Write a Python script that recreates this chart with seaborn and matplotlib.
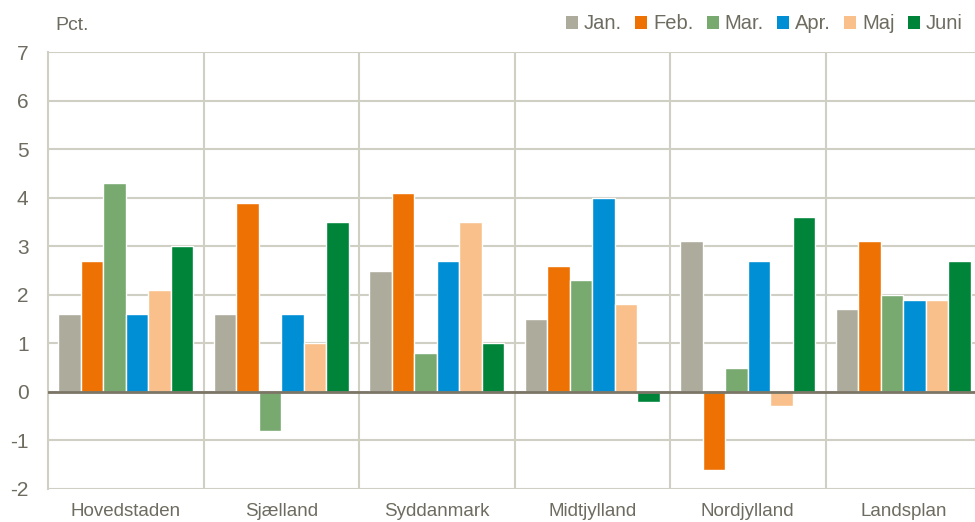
import matplotlib
matplotlib.use("Agg")
import matplotlib.pyplot as plt
import seaborn as sns
import pandas as pd
from matplotlib.patches import Patch

regions = ["Hovedstaden", "Sjælland", "Syddanmark", "Midtjylland", "Nordjylland", "Landsplan"]
months = ["Jan.", "Feb.", "Mar.", "Apr.", "Maj", "Juni"]
jan = [1.6, 1.6, 2.5, 1.5, 3.1, 1.7]
feb = [2.7, 3.9, 4.1, 2.6, -1.6, 3.1]
mar = [4.3, -0.8, 0.8, 2.3, 0.5, 2.0]
apr = [1.6, 1.6, 2.7, 4.0, 2.7, 1.9]
maj = [2.1, 1.0, 3.5, 1.8, -0.3, 1.9]
juni = [3.0, 3.5, 1.0, -0.2, 3.6, 2.7]
yticks = [-2, -1, 0, 1, 2, 3, 4, 5, 6, 7]

colors = ["#adab9c", "#ee7203", "#78a96f", "#008fd5", "#f9c08b", "#00843a"]

series = [jan, feb, mar, apr, maj, juni]
rows = []
for m, vals in zip(months, series):
    for r, v in zip(regions, vals):
        rows.append({"region": r, "month": m, "value": v})
df = pd.DataFrame(rows)

sns.set_theme(style="white")
plt.rcParams["font.family"] = ["Liberation Sans", "DejaVu Sans"]
text_color = "#6e6c60"
grid_color = "#cfcfc4"

fig = plt.figure(figsize=(9.75, 5.22), dpi=100)
ax = fig.add_axes([48 / 975, 33 / 522, 933 / 975, 437 / 522])

sns.barplot(data=df, x="region", y="value", hue="month", order=regions,
            hue_order=months, palette=colors, saturation=1, width=0.87, dodge=True,
            edgecolor="white", linewidth=1.0, legend=False, ax=ax, zorder=3)

ax.set_ylim(-2, 7)
ax.set_xlim(-0.5, len(regions) - 0.5)
ax.set_yticks(yticks)
ax.set_yticklabels([str(t) for t in yticks], fontsize=15, color=text_color)
ax.set_xticks(range(len(regions)))
ax.set_xticklabels(regions, fontsize=13.5, color=text_color)
ax.set_xticks([i + 0.5 for i in range(len(regions) - 1)], minor=True)
ax.tick_params(axis="both", which="both", length=0)
ax.tick_params(axis="y", pad=14)
ax.tick_params(axis="x", pad=10)
ax.set_xlabel("")
ax.set_ylabel("")

ax.grid(axis="y", which="major", color=grid_color, linewidth=1.5, zorder=0)
ax.grid(axis="x", which="minor", color=grid_color, linewidth=1.5, zorder=0)
ax.grid(axis="x", which="major", visible=False)
ax.set_axisbelow(True)
ax.axhline(0, color="#7a7565", linewidth=2, zorder=4)

for s in ["top", "right", "bottom"]:
    ax.spines[s].set_visible(False)
ax.spines["left"].set_color(grid_color)
ax.spines["left"].set_linewidth(1.5)

fig.text(55 / 975, 1 - 25 / 522, "Pct.", fontsize=14, color=text_color,
         ha="left", va="center")

handles = [Patch(facecolor=c, edgecolor="none") for c in colors]
fig.legend(handles, months, loc="center right", bbox_to_anchor=(1.0, 1 - 24 / 522),
           ncol=6, frameon=False, fontsize=14.5, labelcolor=text_color,
           handlelength=0.6, handleheight=0.6, handletextpad=0.3,
           columnspacing=0.65, borderaxespad=0.2)

fig.savefig("out.png", dpi=100)
